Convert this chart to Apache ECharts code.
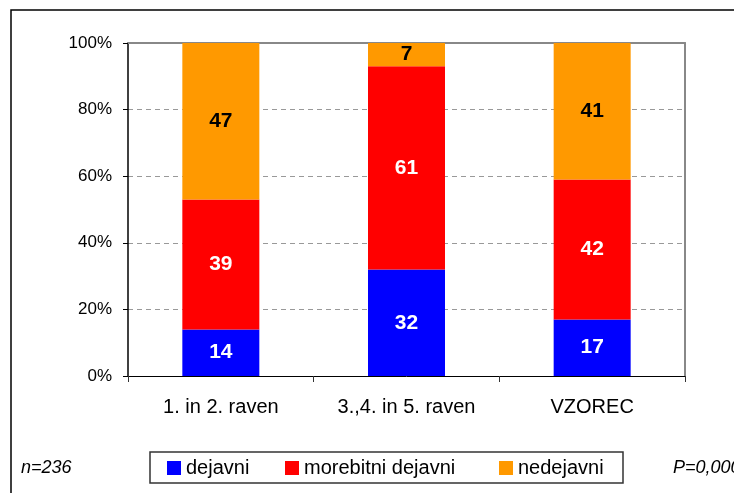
<!DOCTYPE html>
<html>
<head>
<meta charset="utf-8">
<script src="https://cdn.jsdelivr.net/npm/echarts@6/dist/echarts.min.js"></script>
<style>
  html, body { margin: 0; padding: 0; background: #fff; }
  #chart { width: 734px; height: 493px; }
</style>
</head>
<body>
<div id="chart"></div>
<script>
// values (each column adds up to 100)
const categories = ['1. in 2. raven', '3.,4. in 5. raven', 'VZOREC'];
const dejavni = [14, 32, 17];
const morebitni = [39, 61, 42];
const nedejavni = [47, 7, 41];
const seriesNames = ['dejavni', 'morebitni dejavni', 'nedejavni'];
const colors = ['#0000ff', '#ff0000', '#ff9900'];
const yTicks = [0, 20, 40, 60, 80, 100];

const font = 'Liberation Sans, Arial, sans-serif';

var chartDom = document.getElementById('chart');
var myChart = echarts.init(chartDom);

function barSeries(name, data, color, labelColor) {
  return {
    name: name,
    type: 'bar',
    stack: 'total',
    barWidth: 77,
    data: data,
    itemStyle: { color: color },
    label: {
      show: true,
      position: 'inside',
      color: labelColor,
      fontFamily: font,
      fontWeight: 'bold',
      fontSize: 21
    }
  };
}

function legendAt(left, name) {
  return {
    left: left,
    top: 458,
    padding: 0,
    itemWidth: 14,
    itemHeight: 14,
    itemGap: 0,
    icon: 'rect',
    selectedMode: false,
    data: [name],
    textStyle: { fontFamily: font, fontSize: 20, color: '#000', lineHeight: 20 }
  };
}

var option = {
  animation: false,
  backgroundColor: '#fff',
  grid: { left: 128, right: 49, top: 43, bottom: 117 },
  legend: [
    legendAt(167, seriesNames[0]),
    legendAt(285, seriesNames[1]),
    legendAt(499, seriesNames[2])
  ],
  xAxis: [
    {
      type: 'category',
      data: categories,
      axisLine: { lineStyle: { color: '#000', width: 1 } },
      axisTick: { show: true, length: 6, lineStyle: { color: '#333' } },
      axisLabel: { color: '#000', fontFamily: font, fontSize: 20, margin: 21 }
    },
    {
      type: 'category',
      position: 'top',
      data: categories,
      axisLine: { show: true, onZero: false, lineStyle: { color: '#888', width: 2 } },
      axisTick: { show: false },
      axisLabel: { show: false }
    }
  ],
  yAxis: [
    {
      type: 'value',
      min: yTicks[0],
      max: yTicks[yTicks.length - 1],
      interval: 20,
      axisLine: { show: true, lineStyle: { color: '#000', width: 1.5 } },
      axisTick: { show: true, length: 5, lineStyle: { color: '#000' } },
      axisLabel: {
        color: '#000', fontFamily: font, fontSize: 17, margin: 16,
        formatter: '{value}%'
      },
      splitLine: {
        show: true,
        showMinLine: false,
        showMaxLine: false,
        lineStyle: { color: '#999', type: [5, 4], width: 1 }
      }
    },
    {
      type: 'value',
      position: 'right',
      min: 0,
      max: 100,
      interval: 20,
      axisLine: { show: true, onZero: false, lineStyle: { color: '#888', width: 2 } },
      axisTick: { show: false },
      axisLabel: { show: false },
      splitLine: { show: false }
    }
  ],
  series: [
    barSeries(seriesNames[0], dejavni, colors[0], '#fff'),
    barSeries(seriesNames[1], morebitni, colors[1], '#fff'),
    barSeries(seriesNames[2], nedejavni, colors[2], '#000')
  ],
  graphic: [
    {
      type: 'rect',
      shape: { x: 11, y: 10, width: 740, height: 500 },
      style: { fill: 'none', stroke: '#000', lineWidth: 1.5 },
      silent: true
    },
    {
      type: 'rect',
      shape: { x: 150, y: 452, width: 473, height: 31 },
      style: { fill: 'none', stroke: '#333', lineWidth: 1.5 },
      silent: true
    },
    {
      type: 'text',
      left: 21,
      top: 459,
      style: { text: 'n=236', fontFamily: font, fontStyle: 'italic', fontSize: 18, fill: '#000' }
    },
    {
      type: 'text',
      left: 673,
      top: 459,
      style: { text: 'P=0,000', fontFamily: font, fontStyle: 'italic', fontSize: 18, fill: '#000' }
    }
  ]
};

option && myChart.setOption(option);
</script>
</body>
</html>
